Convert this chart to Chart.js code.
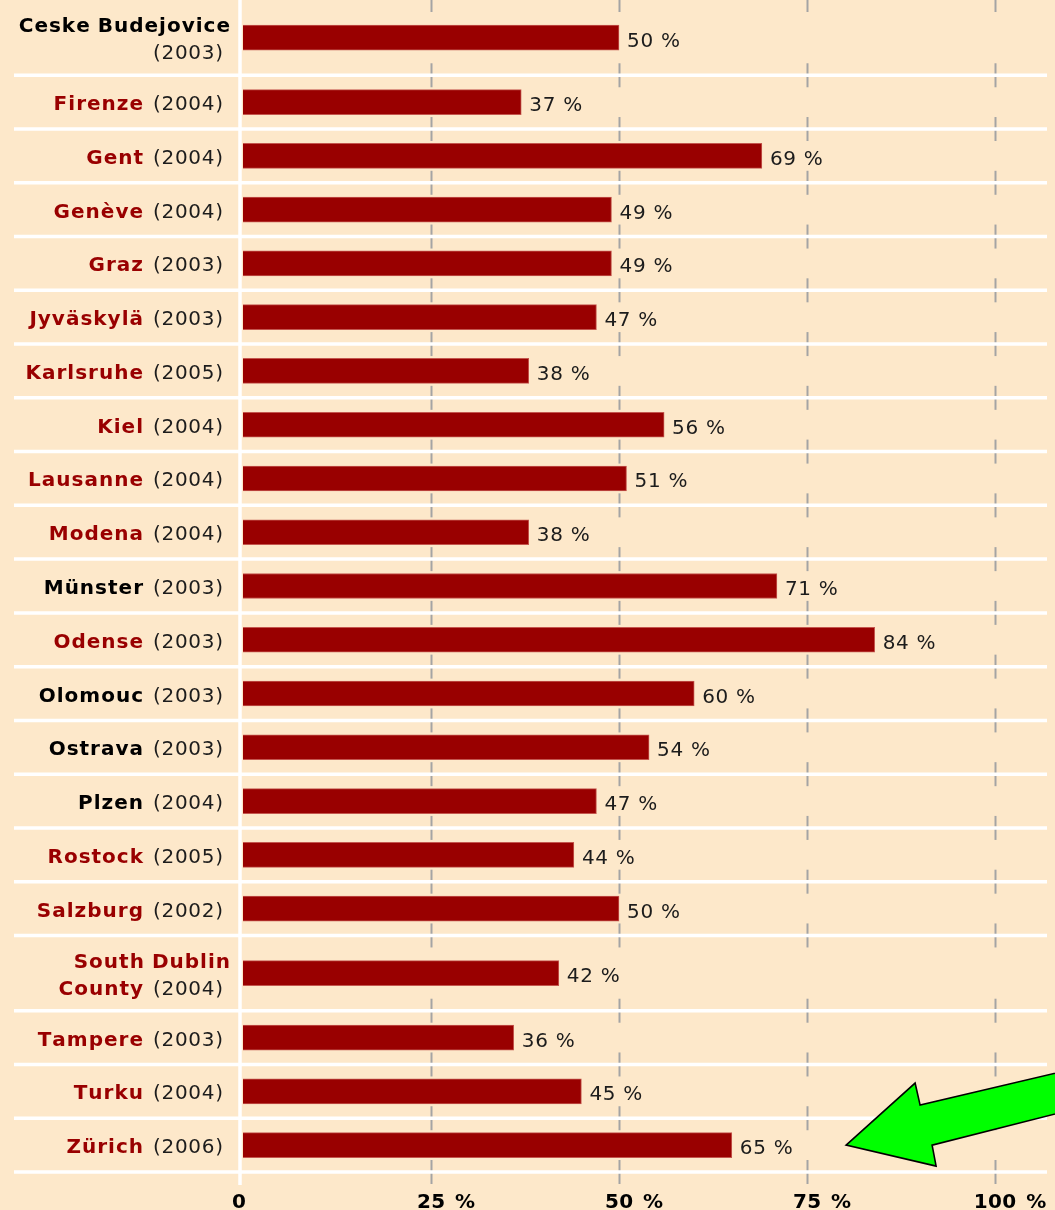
<!DOCTYPE html>
<html><head><meta charset="utf-8">
<script src="https://cdn.jsdelivr.net/npm/chart.js@4/dist/chart.umd.min.js"></script>
<style>
html,body{margin:0;padding:0;background:#FDE8CA;}
#wrap{width:1055px;height:1210px;position:relative;}
</style>
</head><body>
<div id="wrap"><canvas id="c"></canvas></div>
<script>
// ---- data ----
const cities = ['Ceske Budejovice','Firenze','Gent','Genève','Graz','Jyväskylä','Karlsruhe','Kiel','Lausanne','Modena','Münster','Odense','Olomouc','Ostrava','Plzen','Rostock','Salzburg','South Dublin County','Tampere','Turku','Zürich'];
const years = [2003,2004,2004,2004,2003,2003,2005,2004,2004,2004,2003,2003,2003,2003,2004,2005,2002,2004,2003,2004,2006];
const values = [50,37,69,49,49,47,38,56,51,38,71,84,60,54,47,44,50,42,36,45,65];
const linked = [false,true,true,true,true,true,true,true,true,true,false,true,false,false,false,true,true,true,true,true,true];
const tickValues = [0,25,50,75,100];
const tickNumbers = ['0','25','50','75','100'];
const tickUnit = '%';
const highlightCity = 'Zürich';

// ---- styles ----
const BG = '#FDE8CA', RED = '#990000', INK = '#1c1c1c';
const FAMILY = '"DejaVu Sans", Verdana, sans-serif';
const NAME_FONT = 'bold 20px ' + FAMILY, YEAR_FONT = '20px ' + FAMILY;
const NAME_LS = 1, YEAR_LS = 0.7, VAL_LS = 0.7, TICK_LS = 0.3;
const MAXW = 222;

const mctx = document.createElement('canvas').getContext('2d');
function spacedWidth(t, font, ls) {
  mctx.font = font; let w = 0;
  for (const ch of t) w += mctx.measureText(ch).width + ls;
  return w - ls;
}
function drawSpaced(ctx, t, x, y, font, ls, color) {
  ctx.font = font; ctx.fillStyle = color; ctx.textAlign = 'left'; ctx.textBaseline = 'alphabetic';
  for (const ch of t) { ctx.fillText(ch, x, y); x += ctx.measureText(ch).width + ls; }
  return x - ls;
}
function wordW(w) { return w.bold ? spacedWidth(w.t, NAME_FONT, NAME_LS) : spacedWidth(w.t, YEAR_FONT, YEAR_LS); }
function gapW(a, b) { return (a.bold && b.bold) ? 8 : 10; }

// wrap labels into lines
const labelLines = cities.map((c, i) => {
  const words = c.split(' ').map(t => ({t, bold: true, color: linked[i] ? RED : '#000'}));
  words.push({t: '(' + years[i] + ')', bold: false, color: INK});
  const lines = []; let cur = [], curW = 0;
  words.forEach(w => {
    const ww = wordW(w);
    const g = cur.length ? gapW(cur[cur.length - 1], w) : 0;
    if (cur.length && curW + g + ww > MAXW) { lines.push({words: cur, w: curW}); cur = [w]; curW = ww; }
    else { cur.push(w); curW += g + ww; }
  });
  lines.push({words: cur, w: curW});
  return lines;
});
const weights = labelLines.map(l => 1 + 0.4 * (l.length - 1));
const bounds = [0]; weights.forEach(w => bounds.push(bounds[bounds.length - 1] + w));
const centers = weights.map((w, i) => bounds[i] + w / 2);
const total = bounds[bounds.length - 1];

const deco = {
  id: 'deco',
  beforeDraw(chart) {
    const {ctx, chartArea: a, scales: {x, y}} = chart;
    ctx.save();
    ctx.fillStyle = BG; ctx.fillRect(0, 0, chart.width, chart.height);
    // dashed grid pieces around row separators
    ctx.strokeStyle = '#a4a4a4'; ctx.lineWidth = 2;
    tickValues.slice(1).forEach(v => {
      const px = Math.round(x.getPixelForValue(v)) + 0.5;
      bounds.forEach(b => {
        const py = y.getPixelForValue(b);
        ctx.beginPath(); ctx.moveTo(px, Math.max(0, py - 12)); ctx.lineTo(px, py + 12); ctx.stroke();
      });
    });
    // white separators
    ctx.strokeStyle = '#ffffff'; ctx.lineWidth = 3.5;
    bounds.slice(1).forEach(b => {
      const py = y.getPixelForValue(b);
      ctx.beginPath(); ctx.moveTo(14, py); ctx.lineTo(a.right + 52, py); ctx.stroke();
    });
    ctx.beginPath(); ctx.moveTo(a.left - 3, 0); ctx.lineTo(a.left - 3, a.bottom + 13); ctx.stroke();
    ctx.restore();
  },
  afterDatasetsDraw(chart) {
    const {ctx, chartArea: a, scales: {x, y}} = chart;
    ctx.save();
    // category labels
    labelLines.forEach((lines, i) => {
      const cy = y.getPixelForValue(centers[i]);
      const n = lines.length;
      lines.forEach((ln, k) => {
        const base = cy + 8 + (k - (n - 1) / 2) * 27;
        const last = ln.words[ln.words.length - 1];
        const right = last.bold ? 230 : 223;
        let xx = right - ln.w;
        ln.words.forEach((w, j) => {
          if (j > 0) xx += gapW(ln.words[j - 1], w);
          xx = drawSpaced(ctx, w.t, xx, base, w.bold ? NAME_FONT : YEAR_FONT, w.bold ? NAME_LS : YEAR_LS, w.color);
        });
      });
    });
    // value labels
    values.forEach((v, i) => {
      const px = x.getPixelForValue(v) + 8;
      const cy = y.getPixelForValue(centers[i]);
      drawSpaced(ctx, v + ' %', px, cy + 9, YEAR_FONT, VAL_LS, INK);
    });
    // x tick labels
    tickValues.forEach((v, i) => {
      const px = x.getPixelForValue(v);
      const num = tickNumbers[i];
      const w = spacedWidth(num, NAME_FONT, TICK_LS);
      const x0 = (i === 0 ? px - 4 : px) - w / 2;
      const end = drawSpaced(ctx, num, x0, a.bottom + 36, NAME_FONT, TICK_LS, '#000');
      if (v !== 0) drawSpaced(ctx, tickUnit, end + 10, a.bottom + 36, NAME_FONT, 0, '#000');
    });
    // highlight arrow pointing at the highlighted city
    const hi = cities.indexOf(highlightCity);
    const tx = x.getPixelForValue(80.2), ty = y.getPixelForValue(centers[hi]);
    const pts = [[0,0],[69,-62],[74,-40],[260,-84],[260,-44],[86,0],[90,21]];
    ctx.beginPath();
    pts.forEach((p, k) => { const X = tx + p[0], Y = ty + p[1]; k ? ctx.lineTo(X, Y) : ctx.moveTo(X, Y); });
    ctx.closePath();
    ctx.fillStyle = '#00ff00'; ctx.fill();
    ctx.strokeStyle = '#000'; ctx.lineWidth = 1.6; ctx.lineJoin = 'miter'; ctx.stroke();
    ctx.restore();
  }
};

new Chart(document.getElementById('c'), {
  type: 'bar',
  data: {
    datasets: [{
      data: values.map((v, i) => ({x: v, y: centers[i]})),
      backgroundColor: RED,
      borderColor: '#c4564e',
      borderWidth: 1,
      borderSkipped: 'start',
      barThickness: 25
    }]
  },
  options: {
    indexAxis: 'y',
    responsive: true,
    maintainAspectRatio: false,
    animation: false,
    events: [],
    layout: {padding: {left: 243, right: 60, top: 0, bottom: 38}},
    scales: {
      x: {type: 'linear', min: 0, max: 100, display: false, offset: false},
      y: {type: 'linear', min: 0, max: total, reverse: true, display: false, offset: false}
    },
    plugins: {legend: {display: false}, tooltip: {enabled: false}}
  },
  plugins: [deco]
});
</script>
</body></html>
